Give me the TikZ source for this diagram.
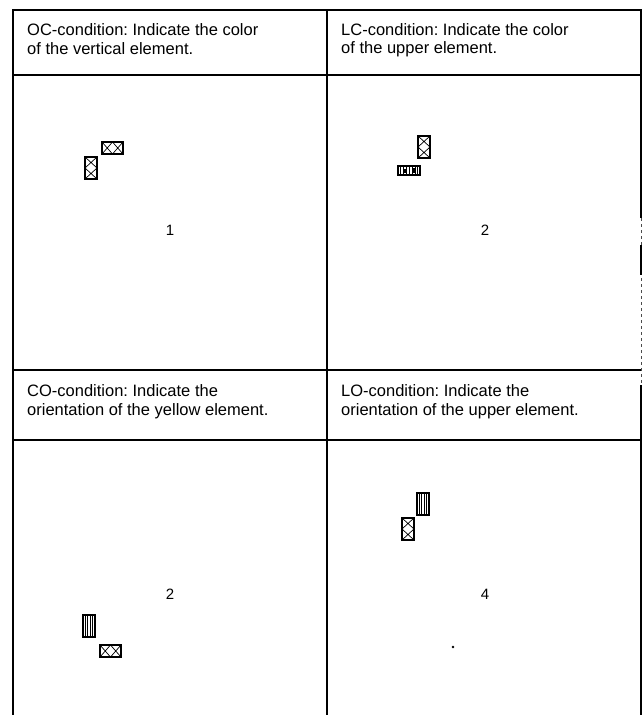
\documentclass[tikz,border=0pt]{standalone}
\usepackage{fontspec}
\setmainfont{Liberation Sans}
\frenchspacing
\begin{document}
\begin{tikzpicture}[x=1pt,y=-1pt,
  frame/.style={line width=1.7pt},
  faint/.style={line width=0.8pt,black!70,dash pattern=on 3pt off 3pt},
  hdr/.style={anchor=west,font=\fontsize{16.5}{19}\selectfont,inner sep=0pt},
  num/.style={font=\fontsize{15}{17}\selectfont,inner sep=0pt},
  box/.style={line width=1.5pt},
  hatch/.style={line width=0.7pt},
  xh/.pic={\draw[box] (0,0) rectangle (21,12);
           \draw[hatch] (0,0)--(10.5,12)--(21,0) (0,12)--(10.5,0)--(21,12);},
  xv/.pic={\draw[box] (0,0) rectangle (12,22);
           \draw[hatch] (0,0)--(12,11)--(0,22) (12,0)--(0,11)--(12,22);},
  sv/.pic={\draw[box] (0,0) rectangle (12,22);
           \draw[hatch] (2.6,0)--(2.6,22) (4.8,0)--(4.8,22) (7.2,0)--(7.2,22) (9.4,0)--(9.4,22);},
  gh/.pic={\draw[box] (0,0) rectangle (22,9);
           \draw[hatch] (2.5,0)--(2.5,9) (5,0)--(5,9) (8,0)--(8,9) (11,0)--(11,9)
                        (14,0)--(14,9) (17,0)--(17,9) (19.5,0)--(19.5,9);
           \fill (5,2.5) rectangle (8,6.5);
           \fill (14,2) rectangle (17,7);}
]
\useasboundingbox (0,0) rectangle (642,715);
% frame
\coordinate (tl) at (13,10);
\coordinate (tr) at (641,10);
\coordinate (bl) at (13,715);
\coordinate (br) at (641,715);
\coordinate (tm) at (327,10);
\coordinate (bm) at (327,715);
\draw[frame] (bl) -- (tl) -- (tr) -- (641,218);
\draw[faint] (641,218) -- (641,385);
\draw[line width=1.2pt] (641,245) -- (641,275);
\draw[frame] (641,385) -- (br);
\draw[frame] (tm) -- (bm);
\draw[frame] (13,75) -- (641,75);
\draw[frame] (13,370) -- (641,370);
\draw[frame] (13,440) -- (641,440);
% headers
\node[hdr] (h1a) at (27,30) {OC-condition: Indicate the color};
\node[hdr] (h1b) at (27,49) {of the vertical element.};
\node[hdr] (h2a) at (341,30) {LC-condition: Indicate the color};
\node[hdr] (h2b) at (341,49) {of the upper element.};
\node[hdr] (h3a) at (27,391) {CO-condition: Indicate the};
\node[hdr] (h3b) at (27,411) {orientation of the yellow element.};
\node[hdr] (h4a) at (341,391) {LO-condition: Indicate the};
\node[hdr] (h4b) at (341,411) {orientation of the upper element.};
% numbers
\node[num] (n1) at (170,230) {1};
\node[num] (n2) at (485,230) {2};
\node[num] (n3) at (170,594) {2};
\node[num] (n4) at (485,594) {4};
% elements
\pic at (102,142) {xh};
\pic at (85,157) {xv};
\pic at (418,136) {xv};
\pic at (398,166) {gh};
\pic at (83,615) {sv};
\pic at (100,645) {xh};
\pic at (417,493) {sv};
\pic at (402,518) {xv};
\fill (453,647) circle (1.3);
\end{tikzpicture}
\end{document}
